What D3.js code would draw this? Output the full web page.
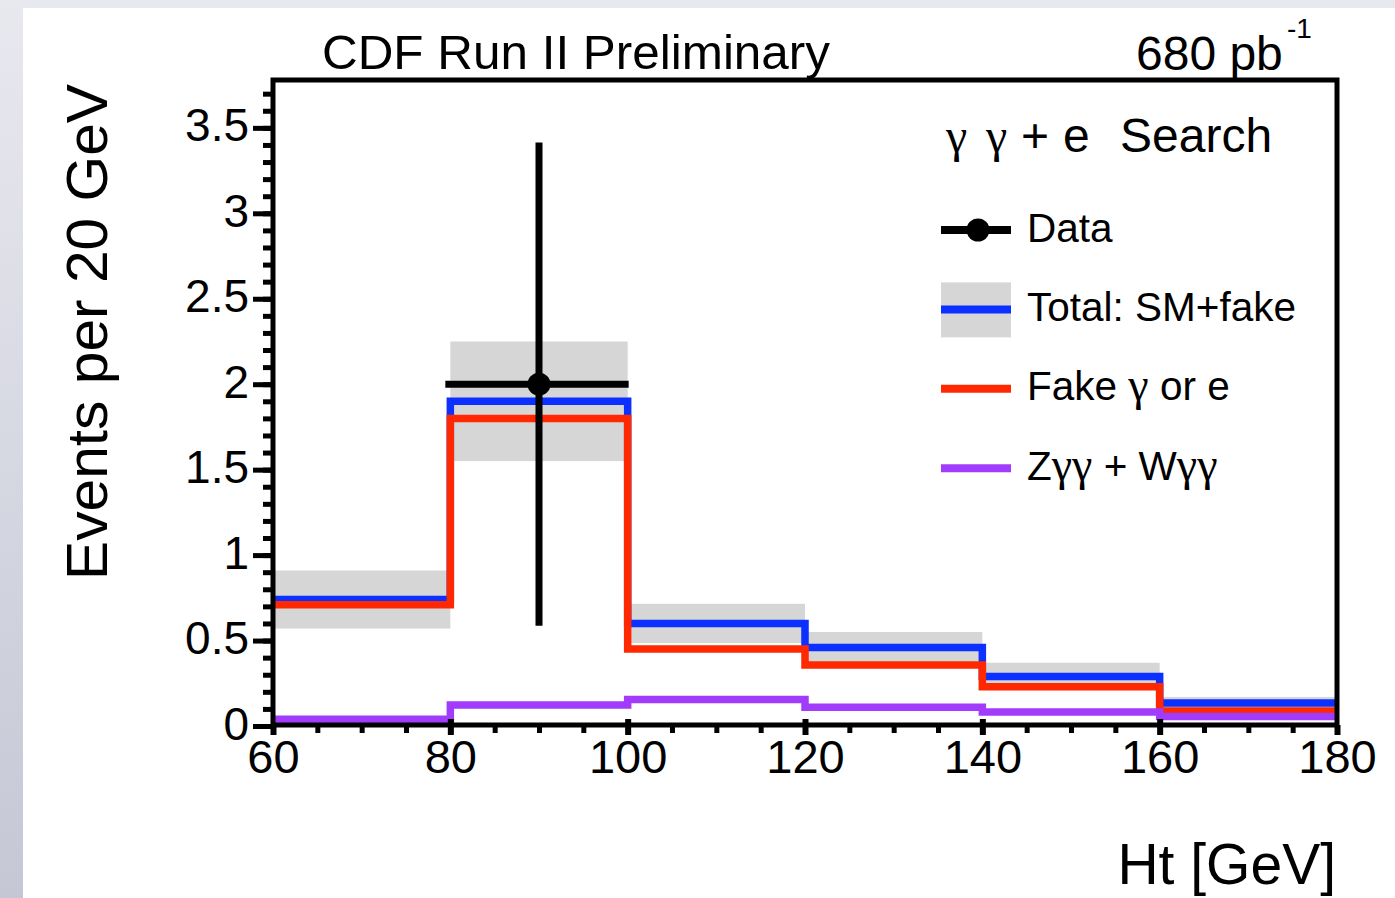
<!DOCTYPE html>
<html>
<head>
<meta charset="utf-8">
<script src="https://cdn.jsdelivr.net/npm/d3@7"></script>
<style>
body { margin: 0; background: #fff; }
svg { display: block; font-family: "Liberation Sans", Arial, sans-serif; }
</style>
</head>
<body>
<div id="chart"></div>
<script>
// histogram bins (Ht, GeV) and contents
const binEdges = [60, 80, 100, 120, 140, 160, 180];
const totalSM  = [0.74, 1.90, 0.60, 0.46, 0.29, 0.135];
const totalErr = [0.17, 0.35, 0.115, 0.09, 0.08, 0.035];
const fakeBkg  = [0.71, 1.80, 0.45, 0.357, 0.23, 0.088];
const zwgg     = [0.04, 0.123, 0.155, 0.11, 0.082, 0.055];

// data points
const dataX    = [90];
const dataY    = [2.0];
const dataErrX = [10];
const dataErrY = [1.414];

const xTicks = [60, 80, 100, 120, 140, 160, 180];
const yTicks = [0, 0.5, 1, 1.5, 2, 2.5, 3, 3.5];

const legendLabels = ["Data", "Total: SM+fake", "Fake γ or e", "Zγγ + Wγγ"];

const W = 1395, H = 898;
const colBlue = "#0b30ff", colRed = "#ff2800", colViolet = "#a23cfc", colBand = "#d6d6d6";

const x = d3.scaleLinear().domain([60, 180]).range([273, 1337]);
const y = d3.scaleLinear().domain([0, 3.78]).range([726, 80]);

const svg = d3.select("#chart").append("svg")
    .attr("width", W)
    .attr("height", H);

// page background
const grad = svg.append("defs").append("linearGradient")
    .attr("id", "bg").attr("x1", 0).attr("y1", 0).attr("x2", 0).attr("y2", 1);
grad.append("stop").attr("offset", "0%").attr("stop-color", "#e8e9ef");
grad.append("stop").attr("offset", "100%").attr("stop-color", "#c5c7d5");
svg.append("rect").attr("width", W).attr("height", H).attr("fill", "url(#bg)");
svg.append("rect").attr("x", 23).attr("y", 8).attr("width", W - 23).attr("height", H - 8).attr("fill", "#fff");

// uncertainty band on the total
svg.append("g").selectAll("rect")
    .data(totalSM)
    .join("rect")
    .attr("x", (d, i) => x(binEdges[i]))
    .attr("width", (d, i) => x(binEdges[i + 1]) - x(binEdges[i]))
    .attr("y", (d, i) => y(d + totalErr[i]))
    .attr("height", (d, i) => y(d - totalErr[i]) - y(d + totalErr[i]))
    .attr("fill", colBand);

// step lines
const step = d3.line()
    .x(d => x(d[0]))
    .y(d => y(d[1]))
    .curve(d3.curveStepAfter);

function histPoints(vals) {
  return binEdges.map((e, i) => [e, vals[Math.min(i, vals.length - 1)]]);
}

[[totalSM, colBlue], [fakeBkg, colRed], [zwgg, colViolet]].forEach(([vals, c]) => {
  svg.append("path")
      .datum(histPoints(vals))
      .attr("fill", "none")
      .attr("stroke", c)
      .attr("stroke-width", 7.5)
      .attr("d", step);
});

// data with error bars
const gData = svg.append("g");
dataX.forEach((dx, i) => {
  gData.append("line")
      .attr("x1", x(dx)).attr("x2", x(dx))
      .attr("y1", y(dataY[i] - dataErrY[i])).attr("y2", y(dataY[i] + dataErrY[i]))
      .attr("stroke", "#000").attr("stroke-width", 7);
  gData.append("line")
      .attr("x1", x(dx - dataErrX[i]) - 5).attr("x2", x(dx + dataErrX[i]) + 1)
      .attr("y1", y(dataY[i])).attr("y2", y(dataY[i]))
      .attr("stroke", "#000").attr("stroke-width", 7);
  gData.append("circle")
      .attr("cx", x(dx)).attr("cy", y(dataY[i]))
      .attr("r", 11.5).attr("fill", "#000");
});

// frame
svg.append("rect")
    .attr("x", x(60)).attr("y", y(3.78))
    .attr("width", x(180) - x(60)).attr("height", 725 - y(3.78))
    .attr("fill", "none").attr("stroke", "#000").attr("stroke-width", 5);

// y axis
const yMinor = d3.range(0, 3.78, 0.1);
svg.append("g")
    .attr("transform", `translate(${x(60)},0)`)
    .call(d3.axisLeft(y).tickValues(yMinor).tickSize(10).tickFormat(""))
    .call(g => g.select(".domain").remove())
    .selectAll("line").attr("stroke-width", 5);

const yAx = svg.append("g")
    .attr("transform", `translate(${x(60)},0)`)
    .call(d3.axisLeft(y).tickValues(yTicks).tickSize(20).tickFormat(d => String(d)));
yAx.select(".domain").remove();
yAx.selectAll("line").attr("stroke-width", 5);
yAx.selectAll("text")
    .attr("x", -24).attr("dy", null).attr("y", 13)
    .attr("font-size", 46).attr("fill", "#000")
    .attr("font-family", "'Liberation Sans', Arial, sans-serif");

// x axis
const xMinor = d3.range(60, 181, 5);
svg.append("g")
    .attr("transform", "translate(0,725)")
    .call(d3.axisBottom(x).tickValues(xMinor).tickSize(8).tickFormat(""))
    .call(g => g.select(".domain").remove())
    .selectAll("line").attr("stroke-width", 5);

svg.append("g")
    .attr("transform", "translate(0,725)")
    .call(d3.axisTop(x).tickValues(xTicks.slice(1, -1)).tickSize(6).tickFormat(""))
    .call(g => g.select(".domain").remove())
    .selectAll("line").attr("stroke-width", 6);

const xAx = svg.append("g")
    .attr("transform", "translate(0,725)")
    .call(d3.axisBottom(x).tickValues(xTicks).tickSize(10).tickFormat(d => String(d)));
xAx.select(".domain").remove();
xAx.selectAll("line").attr("stroke-width", 6);
xAx.selectAll("text")
    .attr("y", 48).attr("dy", null)
    .attr("font-size", 47).attr("fill", "#000")
    .attr("font-family", "'Liberation Sans', Arial, sans-serif");

// titles
svg.append("text")
    .attr("x", 322).attr("y", 69)
    .attr("font-size", 48)
    .attr("textLength", 508).attr("lengthAdjust", "spacingAndGlyphs")
    .text("CDF Run II Preliminary");

svg.append("text")
    .attr("x", 1136).attr("y", 70)
    .attr("font-size", 48)
    .text("680 pb");
svg.append("text")
    .attr("x", 1287).attr("y", 38)
    .attr("font-size", 28)
    .text("-1");

svg.append("text")
    .attr("transform", "rotate(-90)")
    .attr("x", -84).attr("y", 107)
    .attr("text-anchor", "end")
    .attr("font-size", 58)
    .attr("textLength", 496).attr("lengthAdjust", "spacingAndGlyphs")
    .text("Events per 20 GeV");

svg.append("text")
    .attr("x", 1336).attr("y", 884)
    .attr("text-anchor", "end")
    .attr("font-size", 57)
    .text("Ht [GeV]");

// legend
const greek = "'Liberation Serif', 'Times New Roman', serif";
const hdr = svg.append("text").attr("y", 152).attr("font-size", 48);
hdr.append("tspan").attr("x", 946).attr("font-family", greek).text("γ");
hdr.append("tspan").attr("x", 986).attr("font-family", greek).text("γ");
hdr.append("tspan").attr("x", 1021).text("+");
hdr.append("tspan").attr("x", 1063).text("e");
hdr.append("tspan").attr("x", 1120).text("Search");

const legY = i => 230 + i * 79.4;
const lx0 = 941, lx1 = 1011, ltx = 1027;
const gl = svg.append("g");

// data entry
gl.append("line").attr("x1", lx0).attr("x2", lx1).attr("y1", legY(0)).attr("y2", legY(0))
    .attr("stroke", "#000").attr("stroke-width", 8);
gl.append("circle").attr("cx", 978).attr("cy", legY(0)).attr("r", 11.5).attr("fill", "#000");

// total entry
gl.append("rect").attr("x", lx0).attr("y", legY(1) - 27).attr("width", lx1 - lx0).attr("height", 55)
    .attr("fill", colBand);
[[1, colBlue], [2, colRed], [3, colViolet]].forEach(([i, c]) => {
  gl.append("line").attr("x1", lx0).attr("x2", lx1).attr("y1", legY(i)).attr("y2", legY(i))
      .attr("stroke", c).attr("stroke-width", 8);
});

legendLabels.forEach((lab, i) => {
  const t = gl.append("text").attr("x", ltx).attr("y", legY(i) + 11.5).attr("font-size", 40.5);
  // greek letters in a serif face, like the original symbol font
  lab.split(/(γ)/).filter(s => s.length).forEach(s => {
    const ts = t.append("tspan").text(s);
    if (s === "γ") ts.attr("font-family", greek).attr("font-size", 46);
  });
});
</script>
</body>
</html>
